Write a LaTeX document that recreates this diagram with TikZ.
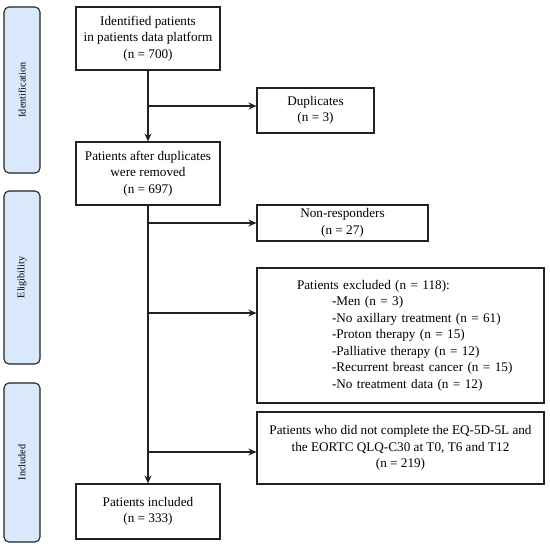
\documentclass[tikz,border=0pt]{standalone}
\usepackage{fontspec}
\setmainfont{Liberation Serif}
\usetikzlibrary{arrows.meta,calc}
\definecolor{sidefill}{HTML}{DAE8FC}
\definecolor{lineclr}{HTML}{222222}
\begin{document}
\begin{tikzpicture}[x=1pt,y=-1pt,
  every node/.style={font=\fontsize{13.2}{16.5}\selectfont},
  flowbox/.style={draw=lineclr, line width=1.1pt, rectangle, inner sep=0pt, align=center},
  sidebox/.style={draw=lineclr, fill=sidefill, line width=1.1pt, rounded corners=5pt},
  sidelabel/.style={rotate=90, font=\fontsize{10.2}{12}\selectfont},
  flow/.style={draw=lineclr, line width=1.1pt},
  flowarrow/.style={flow, -{Stealth[length=8pt,width=7pt]}}]
\useasboundingbox (0,0) rectangle (550,547);

% side bars
\draw[sidebox] (4,7) rectangle (40,173);
\node[sidelabel] (lid) at (22,90) {Identification};
\draw[sidebox] (4,191) rectangle (40,364);
\node[sidelabel] (lel) at (22,277.5) {Eligibility};
\draw[sidebox] (4,383) rectangle (40,542);
\node[sidelabel] (lin) at (22,462.5) {Included};

% main column
\node[flowbox, minimum width=144pt, minimum height=63pt] (b1) at (148,38.5)
  {Identified patients\\in patients data platform\\(n = 700)};
\node[flowbox, minimum width=144pt, minimum height=63pt] (b2) at (148,173.5)
  {Patients after duplicates\\were removed\\(n = 697)};
\node[flowbox, minimum width=144pt, minimum height=55pt] (b3) at (148,511.5)
  {Patients included\\(n = 333)};

% side column
\node[flowbox, minimum width=117pt, minimum height=45pt] (dup) at (315.5,110.5)
  {Duplicates\\(n = 3)};
\node[flowbox, minimum width=171pt, minimum height=36pt] (nonr) at (342.5,223)
  {Non-responders\\(n = 27)};
\node[flowbox, minimum width=287pt, minimum height=135pt, text width=287pt, align=left] (excl) at (400.5,335.5)
  {\hspace*{40pt}Patients excluded (n = 118):\\
   \hspace*{75pt}-Men (n = 3)\\
   \hspace*{75pt}-No axillary treatment (n = 61)\\
   \hspace*{75pt}-Proton therapy (n = 15)\\
   \hspace*{75pt}-Palliative therapy (n = 12)\\
   \hspace*{75pt}-Recurrent breast cancer (n = 15)\\
   \hspace*{75pt}-No treatment data (n = 12)};
\node[flowbox, minimum width=287pt, minimum height=72pt] (eq) at (400.5,448)
  {Patients who did not complete the EQ-5D-5L and\\the EORTC QLQ-C30 at T0, T6 and T12\\(n = 219)};

% branch points
\coordinate (c1) at (148,106);
\coordinate (c2) at (148,223);
\coordinate (c3) at (148,313);
\coordinate (c4) at (148,452);

% connectors
\draw[flowarrow] (b1.south) -- (b2.north);
\draw[flowarrow] (b2.south) -- (b3.north);
\draw[flowarrow] (c1) -- (c1 -| dup.west);
\draw[flowarrow] (c2) -- (c2 -| nonr.west);
\draw[flowarrow] (c3) -- (c3 -| excl.west);
\draw[flowarrow] (c4) -- (c4 -| eq.west);
\end{tikzpicture}
\end{document}
